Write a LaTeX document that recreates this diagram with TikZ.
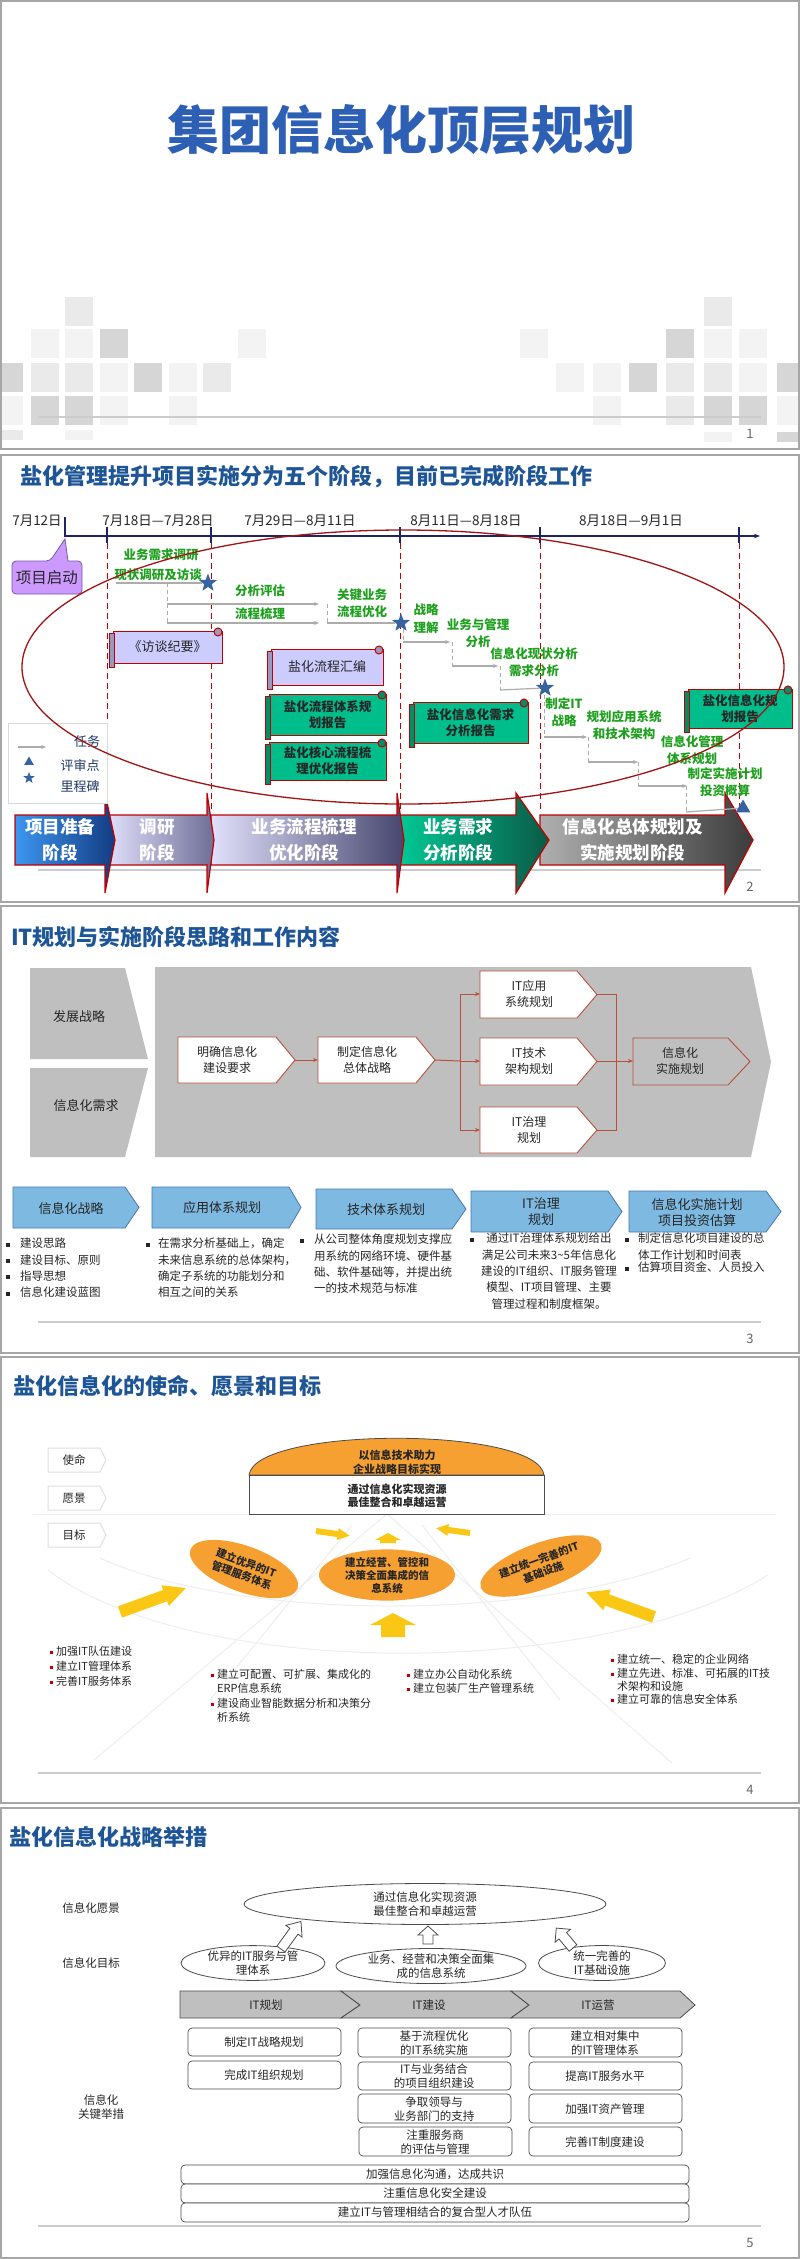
\documentclass[tikz,border=0pt]{standalone}
\usepackage{fontspec}
\setmainfont{Noto Sans CJK SC}
\usetikzlibrary{arrows.meta,shapes.geometric,calc}
\definecolor{bgray}{HTML}{A6A6A6}
\definecolor{tblue1}{RGB}{45,95,180}
\definecolor{tblue}{RGB}{30,85,150}
\definecolor{sqa}{HTML}{F3F3F3}
\definecolor{sqb}{HTML}{EAEAEA}
\definecolor{sqc}{HTML}{D6D6D6}
\definecolor{navy}{RGB}{30,35,100}
\definecolor{dred}{RGB}{192,0,0}
\definecolor{ellred}{RGB}{160,20,20}
\definecolor{tgreen}{RGB}{30,160,30}
\definecolor{starblue}{RGB}{55,100,160}
\definecolor{lav}{RGB}{204,204,255}
\definecolor{scrgreen}{RGB}{0,190,140}
\definecolor{purp}{RGB}{204,153,255}
\definecolor{purpb}{RGB}{120,90,160}
\definecolor{chevred}{RGB}{185,80,60}
\definecolor{cgray}{HTML}{BFBFBF}
\definecolor{lblue}{RGB}{125,185,225}
\definecolor{lblueb}{RGB}{70,120,180}
\definecolor{orng}{RGB}{247,160,50}
\definecolor{ylw}{RGB}{250,200,20}
\definecolor{txt}{HTML}{262626}
\definecolor{legnavy}{RGB}{31,56,100}
\definecolor{pa}{RGB}{60,150,240}\definecolor{pb}{RGB}{20,60,130}
\definecolor{pc}{RGB}{225,225,252}\definecolor{pd}{RGB}{110,110,150}
\definecolor{pe}{RGB}{70,70,110}
\definecolor{pf}{RGB}{0,200,150}\definecolor{pg}{RGB}{10,90,70}
\definecolor{ph}{RGB}{175,175,175}\definecolor{pi}{RGB}{60,60,60}
\newcommand\fsz[2]{\fontsize{#1}{#2}\selectfont}
\newcommand\scrollbox[8]{%
  \draw[dred, line width=1, fill=#6] (#2+4,#3+4) rectangle (#4,#5);
  \draw[dred, line width=1, fill=#6!75!black] (#2,#3+6) rectangle (#2+5,#5+4);
  \draw[dred, line width=1, fill=#6!75!black] (#4-4,#3+5) circle (4);
  \node[align=center, font=#7, text=txt] (#1) at ({(#2+#4)/2+2},{(#3+#5)/2+2}) {#8};}
\newcommand\phasearrow[7]{%
  \draw[dred, line width=1.2, left color=#5, right color=#6] (#2,815) -- (#3,815) -- (#3,793) -- (#4,840) -- (#3,893) -- (#3,865) -- (#2,865) -- cycle;
  \node[font=\bfseries\fsz{17.5}{26}, text=white, align=center] (#1) at ({(#2+#3)/2},840) {#7};}
\newcommand\chevpath[6]{%
  \draw[#6] (#1,#4) -- (#2,#4) -- (#3,{(#4+#5)/2}) -- (#2,#5) -- (#1,#5) -- cycle;}
\newcommand\blockarrow[8]{%
  \begin{scope}[shift={(#1,#2)},rotate=#3]
  \path[#8] (0,-#5) -- (#4,-#5) -- (#4,-#6) -- (#4+#7,0) -- (#4,#6) -- (#4,#5) -- (0,#5) -- cycle;
  \end{scope}}
\begin{document}
\begin{tikzpicture}[x=1pt,y=-1pt,
  slide/.style={draw=bgray, line width=1.6, fill=white},
  ttl/.style={anchor=west, inner sep=0, font=\bfseries\fsz{22}{26}, text=tblue},
  pnum/.style={font=\fsz{13}{15}, text=gray!80!black},
  foot/.style={draw=gray!40, line width=1.5},
  dt/.style={font=\fsz{13.5}{16}, text=txt},
  gtx/.style={font=\bfseries\fsz{12.5}{16.5}, text=tgreen, align=center, inner sep=0},
  tline/.style={draw=gray!65, line width=1.2},
  task/.style={draw=gray!65, line width=1.2, -{Stealth[length=5pt,width=4pt]}},
  vdsh/.style={draw=gray!65, line width=1, dash pattern=on 4pt off 3pt},
  rdsh/.style={draw=dred, line width=1, dash pattern=on 6pt off 4pt},
  mstone/.style={star, star points=5, star point ratio=2.4, fill=starblue, inner sep=0, minimum size=19},
  review/.style={regular polygon, regular polygon sides=3, fill=starblue, inner sep=0, minimum size=17},
  legt/.style={font=\fsz{13}{15}, text=legnavy},
  wchev/.style={draw=chevred, line width=0.9, fill=white},
  gchev/.style={draw=chevred, line width=0.9, fill=cgray},
  ctx/.style={font=\fsz{12}{16}, text=txt, align=center},
  conn/.style={draw=chevred, line width=1, -{Stealth[length=5pt,width=4pt]}},
  cline/.style={draw=chevred, line width=1},
  bchev/.style={draw=lblueb, line width=0.8, fill=lblue},
  btx/.style={font=\fsz{13}{16}, text=txt, align=center},
  blt/.style={font=\fsz{11.5}{16.3}, text=txt, align=left, inner sep=0, anchor=north west},
  tag/.style={draw=gray!25, line width=1, fill=white},
  ttx/.style={font=\fsz{11.5}{14}, text=txt},
  otx/.style={font=\bfseries\fsz{10.5}{13}, text=txt, align=center},
  oell/.style={ellipse, fill=orng, inner sep=0, align=center, font=\bfseries\fsz{10.5}{13}, text=txt},
  rb/.style={font=\fsz{11}{14}, text=txt, align=left, inner sep=0, anchor=north west},
  faint/.style={draw=gray!13, line width=1},
  stx/.style={font=\fsz{11.5}{14}, text=txt, align=center},
  sell/.style={ellipse, draw=gray!60!black, line width=0.8, fill=white, inner sep=0, align=center, font=\fsz{11.5}{14}, text=txt},
  hol/.style={draw=gray!60!black, line width=0.8, fill=white},
  rbox/.style={draw=gray!60!black, line width=0.7, fill=white, rounded corners=4},
  gband/.style={draw=gray!60!black, line width=0.8, fill=cgray}
]
\useasboundingbox (0,0) rectangle (800,2259);
\fill[white] (0,0) rectangle (800,2259);
% slide frames
\foreach \t/\b in {1/449, 455/902, 906/1353, 1357/1803, 1808/2258}
  \draw[slide] (1,\t) rectangle (799,\b);

% ================= Slide 1 =================
\foreach \x/\y/\c in {65/297/sqb, 704/297/sqb,
  31/329/sqa, 65/329/sqa, 100/329/sqc, 238/329/sqa, 520/329/sqa, 666/329/sqc, 704/329/sqa, 739/329/sqa,
  31/363/sqb, 65/363/sqb, 100/363/sqa, 134/363/sqc, 169/363/sqa, 203/363/sqb,
  556/363/sqa, 593/363/sqa, 629/363/sqc, 666/363/sqb, 704/363/sqb, 739/363/sqa,
  31/396/sqc, 65/396/sqc, 100/396/sqa, 169/396/sqa, 593/396/sqa, 666/396/sqb, 704/396/sqc, 739/396/sqc}
  \fill[\c] (\x,\y) rectangle ++(28,29);
\fill[sqc] (2,363) rectangle (23,392);
\fill[sqa] (2,396) rectangle (23,425);
\fill[sqc] (777,363) rectangle (798,392);
\fill[sqa] (777,396) rectangle (798,425);
\fill[sqb] (2,430) rectangle (23,440);
\fill[sqa] (65,430) rectangle (93,440);
\fill[sqa] (704,432) rectangle (732,442);
\fill[sqc] (777,432) rectangle (798,442);
\node[font=\bfseries\fsz{52}{60}, text=tblue1] (t1) at (401,130) {集团信息化顶层规划};

% footers
\foreach \y/\n in {417/1, 870/2, 1322/3, 1773/4, 2226/5}{
  \draw[foot] (38,\y) -- (761,\y);
  \node[pnum] (pn\n) at (750,\y+17) {\n};
}

% ================= Slide 2 =================
\node[ttl] (t2) at (20,477) {盐化管理提升项目实施分为五个阶段，目前已完成阶段工作};
% phase arrows (drawn right to left)
\phasearrow{ph5}{540}{725}{753}{ph}{pi}{信息化总体规划及\\实施规划阶段}
\phasearrow{ph4}{400}{516}{549}{pf}{pg}{业务需求\\分析阶段}
\phasearrow{ph3}{211}{397}{404}{pc}{pe}{业务流程梳理\\优化阶段}
\phasearrow{ph2}{107}{207}{214}{pc}{pd}{调研\\阶段}
\phasearrow{ph1}{15}{105}{115}{pa}{pb}{项目准备\\阶段}
% timeline
\coordinate (tl0) at (64,536);
\coordinate (tl1) at (760,536);
\draw[navy, line width=1.5, -{Stealth[length=6pt]}] (tl0) -- (tl1);
\draw[navy, line width=1.3] (65,517) -- (65,536);
\foreach \x in {107,211,400,540,739}{
  \draw[navy, line width=1.3] (\x,527) -- (\x,543);
  \draw[rdsh] (\x,543) -- (\x,812);
}
\node[dt] (d0) at (37,521) {7月12日};
\node[dt] (d1) at (158,521) {7月18日—7月28日};
\node[dt] (d2) at (300,521) {7月29日—8月11日};
\node[dt] (d3) at (466,521) {8月11日—8月18日};
\node[dt] (d4) at (631,521) {8月18日—9月1日};
% callout
\draw[fill=purp, draw=purpb, line width=0.8, rounded corners=4] (12,561) -- (50,561) [sharp corners] -- (65,539) -- (68,561) [rounded corners=4] -- (82,561) -- (82,594) -- (12,594) -- cycle;
\node[font=\fsz{15.5}{18}, text=txt] (kick) at (47,578) {项目启动};
% legend
\draw[draw=gray!30, fill=white, line width=0.8] (8,723) rectangle (107,803);
\coordinate (lg0) at (18,747);
\coordinate (lg1) at (46,747);
\draw[task] (lg0) -- (lg1);
\node[legt] (lgt1) at (87,742) {任务};
\node[review, minimum size=11] (lgr) at (29,762) {};
\node[legt] (lgt2) at (80,765) {评审点};
\node[mstone, minimum size=12] (lgs) at (29,778) {};
\node[legt] (lgt3) at (80,787) {里程碑};
% scrolls
\scrollbox{sc1}{109}{627}{222}{663}{lav}{\fsz{13}{16}}{《访谈纪要》}
\scrollbox{sc2}{267}{645}{383}{685}{lav}{\fsz{13}{16}}{盐化流程汇编}
\scrollbox{sc3}{265}{690}{386}{735}{scrgreen}{\bfseries\fsz{12.5}{16}}{盐化流程体系规\\划报告}
\scrollbox{sc4}{265}{738}{386}{780}{scrgreen}{\bfseries\fsz{12.5}{16}}{盐化核心流程梳\\理优化报告}
\scrollbox{sc5}{409}{698}{528}{743}{scrgreen}{\bfseries\fsz{12.5}{16}}{盐化信息化需求\\分析报告}
\scrollbox{sc6}{684}{685}{792}{728}{scrgreen}{\bfseries\fsz{12.5}{16}}{盐化信息化规\\划报告}
% tasks
\node[mstone] (s1) at (208,583) {};
\coordinate (a0) at (116,583);
\draw[tline] (a0) -- (s1);
\node[gtx] (g1) at (161,555) {业务需求调研};
\node[gtx] (g2) at (158,575) {现状调研及访谈};
\coordinate (a1) at (167,583); \coordinate (a2) at (167,623);
\draw[vdsh] (a1) -- (a2);
\coordinate (a3) at (167,604); \coordinate (a4) at (319,604);
\draw[task] (a3) -- (a4);
\coordinate (a5) at (319,623);
\draw[task] (a2) -- (a5);
\node[gtx] (g3) at (260,591) {分析评估};
\node[gtx] (g4) at (260,614) {流程梳理};
\coordinate (b1) at (327,604); \coordinate (b2) at (327,623);
\draw[vdsh] (b1) -- (b2);
\node[mstone] (s2) at (401,623) {};
\draw[tline] (b2) -- (s2);
\node[gtx] (g5) at (362,603) {关键业务\\流程优化};
\node[gtx, font=\bfseries\fsz{12.5}{18}] (g6) at (426,619) {战略\\理解};
\coordinate (c1) at (403,629); \coordinate (c2) at (403,642); \coordinate (c3) at (450,642);
\draw[vdsh] (c1) -- (c2); \draw[task] (c2) -- (c3);
\node[gtx] (g7) at (478,633) {业务与管理\\分析};
\coordinate (e1) at (452,642); \coordinate (e2) at (452,666); \coordinate (e3) at (498,666);
\draw[vdsh] (e1) -- (e2); \draw[task] (e2) -- (e3);
\node[gtx] (g8) at (534,662) {信息化现状分析\\需求分析};
\coordinate (f1) at (500,666); \coordinate (f2) at (500,690);
\draw[vdsh] (f1) -- (f2);
\node[mstone] (s3) at (545,688) {};
\draw[tline] (f2) -- (s3);
\node[gtx] (g9) at (564,712) {制定IT\\战略};
\coordinate (h1) at (544,695); \coordinate (h2) at (544,737); \coordinate (h3) at (587,737);
\draw[vdsh] (h1) -- (h2); \draw[task] (h2) -- (h3);
\node[gtx] (g10) at (624,725) {规划应用系统\\和技术架构};
\coordinate (i1) at (588,737); \coordinate (i2) at (588,762); \coordinate (i3) at (638,762);
\draw[vdsh] (i1) -- (i2); \draw[task] (i2) -- (i3);
\node[gtx] (g11) at (692,750) {信息化管理\\体系规划};
\coordinate (j1) at (638,762); \coordinate (j2) at (638,786); \coordinate (j3) at (687,786);
\draw[vdsh] (j1) -- (j2); \draw[task] (j2) -- (j3);
\node[gtx] (g12) at (725,782) {制定实施计划\\投资概算};
\coordinate (k1) at (686,786); \coordinate (k2) at (686,812);
\draw[vdsh] (k1) -- (k2);
\node[review] (r1) at (743,808) {};
\draw[tline] (k2) -- (r1);
% red ellipse
\draw[ellred, line width=1.3] (403,667) ellipse [x radius=381, y radius=137];

% ================= Slide 3 =================
\node[ttl] (t3) at (11,937) {IT规划与实施阶段思路和工作内容};
\fill[cgray] (30,968) -- (125,968) -- (148,1059) -- (30,1059) -- cycle;
\fill[cgray] (30,1068) -- (148,1068) -- (125,1157) -- (30,1157) -- cycle;
\node[ctx, font=\fsz{13}{16}] (fz) at (79,1017) {发展战略};
\node[ctx, font=\fsz{13}{16}] (xq) at (86,1105) {信息化需求};
\fill[cgray] (155,967) -- (751,967) -- (771,1062) -- (751,1157) -- (155,1157) -- cycle;
\chevpath{178}{276}{295}{1037}{1083}{wchev}
\node[ctx] (mq) at (227,1060) {明确信息化\\建设要求};
\coordinate (mq-t) at (295,1060);
\chevpath{318}{416}{435}{1037}{1083}{wchev}
\node[ctx] (zd) at (367,1060) {制定信息化\\总体战略};
\coordinate (zd-l) at (318,1060); \coordinate (zd-t) at (435,1060);
\chevpath{480}{577}{597}{971}{1018}{wchev}
\node[ctx] (ita) at (529,994) {IT应用\\系统规划};
\coordinate (ita-l) at (480,994); \coordinate (ita-t) at (597,994);
\chevpath{480}{577}{597}{1038}{1085}{wchev}
\node[ctx] (itb) at (529,1061) {IT技术\\架构规划};
\coordinate (itb-l) at (480,1061); \coordinate (itb-t) at (597,1061);
\chevpath{480}{577}{597}{1107}{1153}{wchev}
\node[ctx] (itc) at (529,1130) {IT治理\\规划};
\coordinate (itc-l) at (480,1130); \coordinate (itc-t) at (597,1130);
\chevpath{633}{728}{750}{1038}{1085}{gchev}
\node[ctx] (ss) at (680,1061) {信息化\\实施规划};
\coordinate (ss-l) at (633,1061);
\draw[conn] (mq-t) -- (zd-l);
\coordinate (sp) at (460,1061);
\draw[cline] (zd-t) -- (sp);
\draw[conn] (sp) |- (ita-l);
\draw[conn] (sp) -- (itb-l);
\draw[conn] (sp) |- (itc-l);
\coordinate (mg) at (616,1061);
\draw[cline] (ita-t) -| (mg);
\draw[cline] (itc-t) -| (mg);
\draw[cline] (itb-t) -- (mg);
\draw[conn] (mg) -- (ss-l);
% bottom blue chevrons
\chevpath{13}{125}{139}{1187}{1228}{bchev}
\node[btx] (bb1) at (71,1208) {信息化战略};
\chevpath{152}{289}{301}{1187}{1228}{bchev}
\node[btx] (bb2) at (222,1208) {应用体系规划};
\chevpath{316}{452}{466}{1189}{1229}{bchev}
\node[btx] (bb3) at (386,1210) {技术体系规划};
\chevpath{471}{608}{622}{1191}{1232}{bchev}
\node[btx] (bb4) at (541,1212) {IT治理\\规划};
\chevpath{629}{766}{781}{1191}{1232}{bchev}
\node[btx] (bb5) at (697,1212) {信息化实施计划\\项目投资估算};
% bullets
\foreach \x/\y in {8/1245, 8/1261, 8/1277, 8/1294, 148/1245, 302/1241, 472/1240, 627/1240, 627/1269}
  \fill[txt] (\x-1.6,\y-1.6) rectangle ++(3.2,3.2);
\node[blt] (l1) at (20,1238) {建设思路\\建设目标、原则\\指导思想\\信息化建设蓝图};
\node[blt] (l2) at (158,1238) {在需求分析基础上，确定\\未来信息系统的总体架构，\\确定子系统的功能划分和\\相互之间的关系};
\node[blt] (l3) at (314,1234) {从公司整体角度规划支撑应\\用系统的网络环境、硬件基\\础、软件基础等，并提出统\\一的技术规范与标准};
\node[blt, anchor=north, align=center] (l4) at (549,1233) {通过IT治理体系规划给出\\满足公司未来3\textasciitilde5年信息化\\建设的IT组织、IT服务管理\\模型、IT项目管理、主要\\管理过程和制度框架。};
\node[blt] (l5) at (638,1233) {制定信息化项目建设的总\\体工作计划和时间表};
\node[blt] (l6) at (638,1262) {估算项目资金、人员投入};

% ================= Slide 4 =================
\node[ttl] (t4) at (13,1386) {盐化信息化的使命、愿景和目标};
% faint radar
\draw[faint] (33,1514) -- (776,1514);
\coordinate (apex) at (387,1514);
\coordinate (rl) at (94,1760); \coordinate (rr) at (672,1763);
\draw[faint] (apex) -- (rl);
\draw[faint] (apex) -- (rr);
\draw[faint] (352,1525) -- (210,1700);
\draw[faint] (422,1525) -- (560,1700);
\draw[faint] (48,1570) .. controls (190,1680) and (600,1680) .. (768,1575);
\draw[faint] (100,1558) .. controls (240,1622) and (540,1622) .. (690,1558);
% tags
\foreach \y/\lab/\nm in {1448/使命/tg1, 1486/愿景/tg2, 1523/目标/tg3}{
  \draw[tag] (48,\y) -- (100,\y) -- (106,\y+12) -- (100,\y+24) -- (48,\y+24) -- cycle;
  \node[ttx] (\nm) at (74,\y+12) {\lab};
}
% dome + rect
\draw[fill=orng, draw=gray!60!black, line width=0.8] (249,1475) .. controls (255,1426) and (538,1426) .. (544,1475) -- cycle;
\draw[fill=white, draw=gray!60!black, line width=0.8] (249,1475) rectangle (544,1514);
\node[otx, font=\bfseries\fsz{11}{14}] (mis) at (397,1462) {以信息技术助力\\企业战略目标实现};
\node[otx, font=\bfseries\fsz{11}{12.5}] (vis4) at (397,1496) {通过信息化实现资源\\最佳整合和卓越运营};
% goal ellipses
\node[oell, minimum width=114, minimum height=46, rotate=-20] (og1) at (244,1569) {建立优异的IT\\管理服务体系};
\node[oell, minimum width=136, minimum height=46] (og2) at (387,1575) {建立经营、管控和\\决策全面集成的信\\息系统};
\node[oell, minimum width=128, minimum height=46, rotate=20] (og3) at (541,1566) {建立统一完善的IT\\基础设施};
% yellow arrows
\blockarrow{316}{1531}{-8}{22}{3}{6}{12}{fill=ylw}
\blockarrow{388}{1543}{90}{3}{8}{13}{7}{fill=ylw}
\blockarrow{470}{1533}{172}{22}{3}{6}{12}{fill=ylw}
\blockarrow{120}{1612}{20}{48}{6}{11}{22}{fill=ylw}
\blockarrow{393}{1637}{90}{12}{12}{23}{12}{fill=ylw}
\blockarrow{654}{1617}{160}{50}{6}{11}{22}{fill=ylw}
% bullet lists
\foreach \x/\y in {51/1652, 51/1667, 51/1682, 212/1675, 212/1704, 408/1675, 408/1689, 612/1660, 612/1674, 612/1700}
  \fill[dred] (\x-1.5,\y-1.5) rectangle ++(3,3);
\node[rb, font=\fsz{11}{15}] (w1) at (56,1646) {加强IT队伍建设\\建立IT管理体系\\完善IT服务体系};
\node[rb] (w2) at (217,1669) {建立可配置、可扩展、集成化的\\ERP信息系统};
\node[rb] (w3) at (217,1698) {建设商业智能数据分析和决策分\\析系统};
\node[rb] (w4) at (413,1669) {建立办公自动化系统\\建立包装厂生产管理系统};
\node[rb, font=\fsz{11}{13.4}] (w5) at (617,1654) {建立统一、稳定的企业网络\\建立先进、标准、可拓展的IT技\\术架构和设施\\建立可靠的信息安全体系};

% ================= Slide 5 =================
\node[ttl] (t5) at (9,1837) {盐化信息化战略举措};
\node[stx] (lb1) at (91,1908) {信息化愿景};
\node[stx] (lb2) at (91,1963) {信息化目标};
\node[stx] (lb3) at (101,2107) {信息化\\关键举措};
\node[sell, minimum width=362, minimum height=41] (vis) at (425,1904) {通过信息化实现资源\\最佳整合和卓越运营};
\node[sell, minimum width=144, minimum height=27] (sg1) at (253,1963) {优异的IT服务与管\\理体系};
\node[sell, minimum width=190, minimum height=31] (sg2) at (431,1966) {业务、经营和决策全面集\\成的信息系统};
\node[sell, minimum width=127, minimum height=28] (sg3) at (602,1963) {统一完善的\\IT基础设施};
\blockarrow{281}{1949}{54}{22}{5}{10}{12}{hol}
\blockarrow{428}{1944}{90}{9}{5}{10}{9}{hol}
\blockarrow{573}{1948}{130}{16}{5}{10}{10}{hol}
% band
\draw[gband] (180,1991) -- (341,1991) -- (360,2005) -- (341,2018) -- (180,2018) -- cycle;
\draw[gband] (341,1991) -- (511,1991) -- (529,2005) -- (511,2018) -- (341,2018) -- (360,2005) -- cycle;
\draw[gband] (511,1991) -- (680,1991) -- (695,2005) -- (680,2018) -- (511,2018) -- (529,2005) -- cycle;
\node[stx] (bd1) at (266,2005) {IT规划};
\node[stx] (bd2) at (429,2005) {IT建设};
\node[stx] (bd3) at (598,2005) {IT运营};
% boxes
\draw[rbox] (188,2028) rectangle (341,2056);
\node[stx] (k11) at (264,2042) {制定IT战略规划};
\draw[rbox] (188,2061) rectangle (341,2089);
\node[stx] (k12) at (264,2075) {完成IT组织规划};
\draw[rbox] (358,2028) rectangle (511,2057);
\node[stx] (k21) at (434,2043) {基于流程优化\\的IT系统实施};
\draw[rbox] (358,2062) rectangle (511,2090);
\node[stx] (k22) at (434,2076) {IT与业务结合\\的项目组织建设};
\draw[rbox] (358,2094) rectangle (511,2123);
\node[stx] (k23) at (434,2109) {争取领导与\\业务部门的支持};
\draw[rbox] (359,2127) rectangle (512,2156);
\node[stx] (k24) at (435,2142) {注重服务商\\的评估与管理};
\draw[rbox] (529,2028) rectangle (682,2057);
\node[stx] (k31) at (605,2043) {建立相对集中\\的IT管理体系};
\draw[rbox] (529,2062) rectangle (682,2090);
\node[stx] (k32) at (605,2076) {提高IT服务水平};
\draw[rbox] (529,2094) rectangle (682,2123);
\node[stx] (k33) at (605,2109) {加强IT资产管理};
\draw[rbox] (529,2127) rectangle (682,2156);
\node[stx] (k34) at (605,2142) {完善IT制度建设};
\draw[rbox] (181,2165) rectangle (689,2184);
\node[stx] (w51) at (435,2174) {加强信息化沟通，达成共识};
\draw[rbox] (181,2184) rectangle (689,2203);
\node[stx] (w52) at (435,2193) {注重信息化安全建设};
\draw[rbox] (181,2203) rectangle (689,2222);
\node[stx] (w53) at (435,2212) {建立IT与管理相结合的复合型人才队伍};
\end{tikzpicture}
\end{document}
